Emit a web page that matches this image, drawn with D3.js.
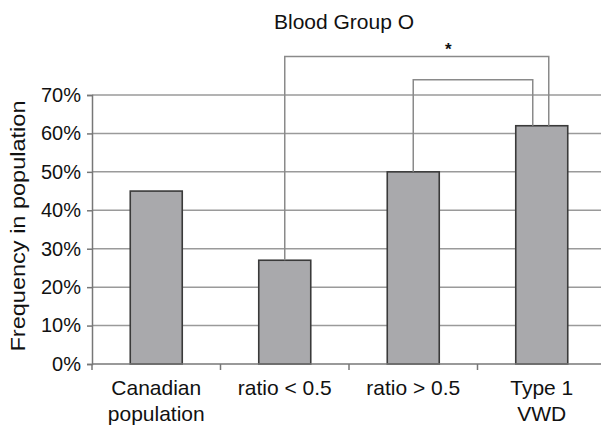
<!DOCTYPE html>
<html><head><meta charset="utf-8">
<script src="https://cdn.jsdelivr.net/npm/d3@7"></script>
<style>body{margin:0;background:#fff}svg{display:block;font-family:"Liberation Sans",Arial,sans-serif}</style>
</head><body>
<svg id="c" width="601" height="426"></svg>
<script>
const categories = [["Canadian","population"],["ratio < 0.5"],["ratio > 0.5"],["Type 1","VWD"]];
const values = [45, 27, 50, 62];
const yTicks = [0,10,20,30,40,50,60,70];
const brackets = [
  {from:1, to:3, level:80, label:"*"},
  {from:2, to:3, level:74, label:""}
];
const title = "Blood Group O";
const yLabel = "Frequency in population";

const svg = d3.select("#c");
const mLeft = 92, mRight = 606, mTop = 95, mBottom = 364;
const x = d3.scaleBand().domain(d3.range(categories.length)).range([mLeft,mRight]).paddingInner(0).paddingOuter(0);
const y = d3.scaleLinear().domain([0,70]).range([mBottom,mTop]);
const barW = 52;

// gridlines
svg.append("g").selectAll("line").data(yTicks.filter(d=>d>0)).join("line")
  .attr("x1",mLeft).attr("x2",mRight).attr("y1",d=>y(d)).attr("y2",d=>y(d))
  .attr("stroke","#9a9a9a").attr("stroke-width",1.5);

// bars
svg.append("g").selectAll("rect").data(values).join("rect")
  .attr("x",(d,i)=>x(i)+x.bandwidth()/2-barW/2).attr("width",barW)
  .attr("y",d=>y(d)).attr("height",d=>mBottom-y(d))
  .attr("fill","#a9a9ac").attr("stroke","#3a3a3a").attr("stroke-width",1.6);

// y axis
const ya = svg.append("g").attr("transform",`translate(${mLeft},0)`)
  .call(d3.axisLeft(y).tickValues(yTicks).tickFormat(d=>d+"%").tickSize(5).tickPadding(6));
ya.select(".domain").attr("stroke","#777").attr("stroke-width",1.5);
ya.selectAll(".tick line").attr("stroke","#777").attr("stroke-width",1.5);
ya.selectAll("text").attr("font-size",20).attr("fill","#111").attr("font-family","Liberation Sans, Arial, sans-serif");

// x axis
const xa = svg.append("g").attr("transform",`translate(0,${mBottom})`);
xa.append("line").attr("x1",mLeft).attr("x2",mRight).attr("stroke","#777").attr("stroke-width",1.5);
xa.selectAll("line.tk").data(d3.range(categories.length+1)).join("line").attr("class","tk")
  .attr("x1",i=>mLeft+i*x.bandwidth()).attr("x2",i=>mLeft+i*x.bandwidth())
  .attr("y1",0).attr("y2",6).attr("stroke","#777").attr("stroke-width",1.5);
const lbl = xa.selectAll("text").data(categories).join("text")
  .attr("text-anchor","middle").attr("font-size",21).attr("fill","#111")
  .attr("transform",(d,i)=>`translate(${x(i)+x.bandwidth()/2},0)`);
lbl.selectAll("tspan").data(d=>d).join("tspan")
  .attr("x",0).attr("y",(d,j)=>31+j*26).text(d=>d);

// brackets
const cx = i => x(i)+x.bandwidth()/2;
const bg = svg.append("g");
brackets.forEach((b,k)=>{
  const x1 = cx(b.from), x2 = cx(b.to) + (k===0?7:-9);
  bg.append("path")
    .attr("d",`M${x1},${y(values[b.from])}V${y(b.level)}H${x2}V${y(values[b.to])}`)
    .attr("fill","none").attr("stroke","#8a8a8a").attr("stroke-width",1.5);
  if(b.label) bg.append("text").attr("x",x1+(x2-x1)*0.62).attr("y",y(b.level)-2)
    .attr("text-anchor","middle").attr("font-size",17).attr("font-weight","bold").attr("fill","#111").text(b.label);
});

// title
svg.append("text").attr("x",344).attr("y",29).attr("text-anchor","middle")
  .attr("font-size",21).attr("fill","#111").text(title);
// y label
svg.append("text").attr("transform",`translate(25,226) rotate(-90)`)
  .attr("text-anchor","middle").attr("font-size",21).attr("fill","#111")
  .attr("textLength",251).attr("lengthAdjust","spacingAndGlyphs").text(yLabel);
</script>
</body></html>
